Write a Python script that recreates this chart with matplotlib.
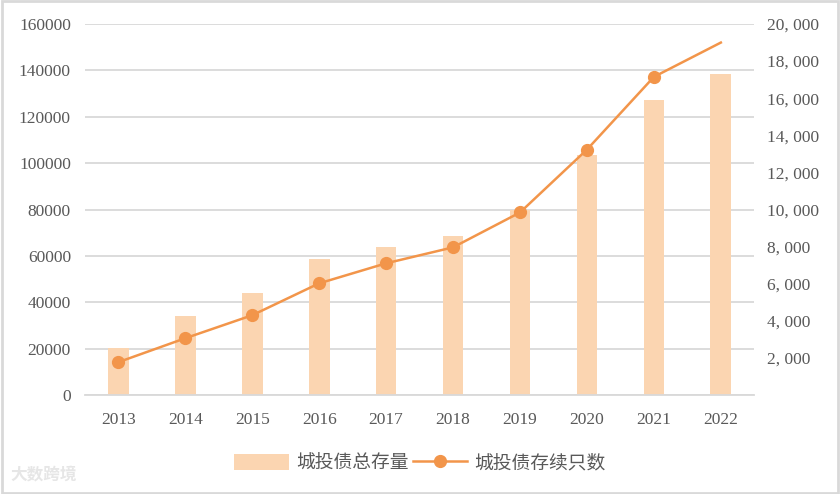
import matplotlib.pyplot as plt
from matplotlib.ticker import FuncFormatter

plt.rcParams['font.family'] = ['Liberation Serif', 'Noto Sans CJK SC']

years = ['2013', '2014', '2015', '2016', '2017', '2018', '2019', '2020', '2021', '2022']
total_stock = [20200, 34000, 43800, 58500, 64000, 68400, 79600, 103700, 127300, 138500]
bond_count = [1770, 3060, 4300, 6020, 7100, 7960, 9840, 13230, 17150, 19000]

bar_color = '#FBD5B1'
line_color = '#F2954A'
text_color = '#595959'
grid_color = '#D9D9D9'

fig = plt.figure(figsize=(8.4, 4.94), dpi=100)
ax = fig.add_axes([0.101, 0.2004, 0.797, 0.751])
ax2 = ax.twinx()

x = range(len(years))
ax.bar(x, total_stock, width=0.31, color=bar_color, zorder=2, label='城投债总存量')
ax2.plot(x, bond_count, color=line_color, lw=1.8, marker='o', markersize=8.5,
         markevery=list(range(len(years) - 1)), zorder=3, label='城投债存续只数')

ax.set_xlim(-0.5, len(years) - 0.5)
ax.set_ylim(0, 160000)
ax.set_yticks(range(0, 160001, 20000))
ax2.set_ylim(0, 20000)
ax2.set_yticks(range(2000, 20001, 2000))
ax2.yaxis.set_major_formatter(FuncFormatter(lambda v, p: f'{int(v):,}'.replace(',', ', ')))

ax.set_xticks(list(x))
ax.set_xticklabels(years)
ax.grid(axis='y', color=grid_color, lw=1.3, zorder=0)
ax.set_axisbelow(True)

for a in (ax, ax2):
    for s in a.spines.values():
        s.set_visible(False)
    a.tick_params(length=0, colors=text_color, labelsize=12.5)
ax.spines['bottom'].set_visible(True)
ax.spines['bottom'].set_color(grid_color)
ax.spines['bottom'].set_linewidth(1.3)
ax.tick_params(axis='x', pad=12)
ax.tick_params(axis='y', pad=10)
ax2.tick_params(axis='y', pad=9)

h1, l1 = ax.get_legend_handles_labels()
h2, l2 = ax2.get_legend_handles_labels()
fig.legend(h1 + h2, l1 + l2, loc='center', bbox_to_anchor=(0.5, 0.063), ncol=2,
           frameon=False, prop={'family': ['Noto Sans CJK SC'], 'size': 13.5},
           labelcolor=text_color, handlelength=2.9, handleheight=0.9,
           columnspacing=0.2, handletextpad=0.4)

fig.text(0.012, 0.03, '大数跨境', color='#E6E6E6', fontsize=12, fontweight='bold',
         family=['Noto Sans CJK SC'])

fig.patches.append(plt.Rectangle((0.002, 0.003), 0.996, 0.994, transform=fig.transFigure,
                                 fill=False, edgecolor='#D9D9D9', lw=2))

fig.savefig('out.png', dpi=100)
